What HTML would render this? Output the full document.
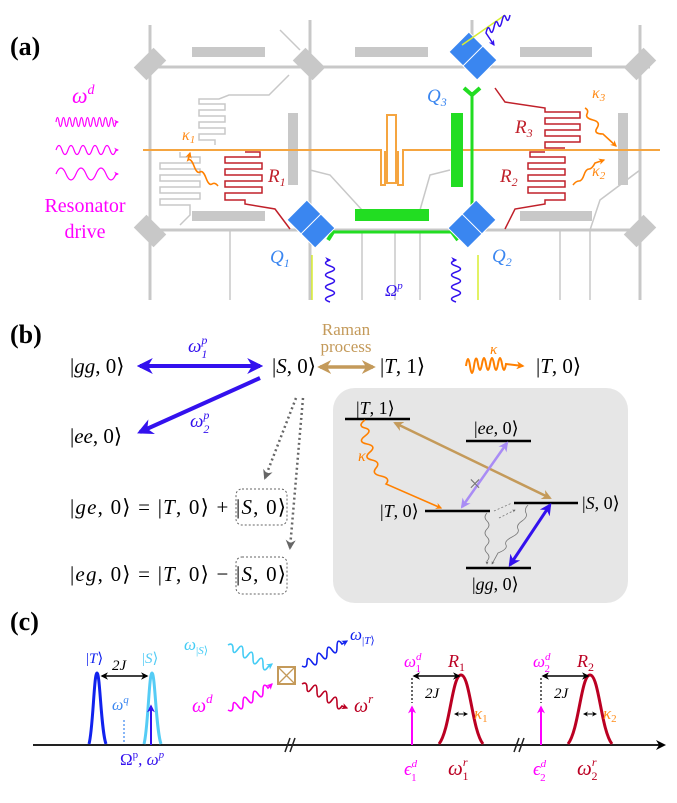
<!DOCTYPE html>
<html><head><meta charset="utf-8"><style>
body{margin:0;background:#fff}
svg text{font-family:"Liberation Serif",serif}
.m{font-size:21px}
.i{font-style:italic}
</style></head><body>
<svg width="677" height="798" viewBox="0 0 677 798" xmlns="http://www.w3.org/2000/svg">
<defs>
<marker id="ab" viewBox="0 0 10 10" refX="8" refY="5" markerWidth="4" markerHeight="4" orient="auto-start-reverse"><path d="M0 0L10 5L0 10L3 5z" fill="#3311ee"/></marker>
<marker id="ag" viewBox="0 0 10 10" refX="8" refY="5" markerWidth="4" markerHeight="4" orient="auto-start-reverse"><path d="M0 0L10 5L0 10L3 5z" fill="#c49a5a"/></marker>
<marker id="ao" viewBox="0 0 10 10" refX="8" refY="5" markerWidth="4" markerHeight="4" orient="auto-start-reverse"><path d="M0 0L10 5L0 10L3 5z" fill="#ff8000"/></marker>
<marker id="agr" viewBox="0 0 10 10" refX="8" refY="5" markerWidth="4" markerHeight="4" orient="auto-start-reverse"><path d="M0 0L10 5L0 10L3 5z" fill="#666"/></marker>
<marker id="ap" viewBox="0 0 10 10" refX="8" refY="5" markerWidth="4" markerHeight="4" orient="auto-start-reverse"><path d="M0 0L10 5L0 10L3 5z" fill="#a98cf5"/></marker>
<marker id="am" viewBox="0 0 10 10" refX="8" refY="5" markerWidth="4" markerHeight="4" orient="auto"><path d="M0 0L10 5L0 10L3 5z" fill="#ff00ff"/></marker>
<marker id="ak" viewBox="0 0 10 10" refX="8" refY="5" markerWidth="5" markerHeight="5" orient="auto-start-reverse"><path d="M0 0L10 5L0 10L3 5z" fill="#000"/></marker>
<marker id="ac" viewBox="0 0 10 10" refX="8" refY="5" markerWidth="4" markerHeight="4" orient="auto"><path d="M0 0L10 5L0 10L3 5z" fill="#44ccf5"/></marker>
<marker id="ar" viewBox="0 0 10 10" refX="8" refY="5" markerWidth="4" markerHeight="4" orient="auto"><path d="M0 0L10 5L0 10L3 5z" fill="#bb0022"/></marker>
<marker id="ab2" viewBox="0 0 10 10" refX="8" refY="5" markerWidth="4" markerHeight="4" orient="auto"><path d="M0 0L10 5L0 10L3 5z" fill="#1122ee"/></marker>
</defs>

<!-- (a) -->
<text x="10" y="55" font-size="26" font-weight="bold">(a)</text>
<g stroke="#c8c8c8" fill="none" stroke-width="3">
<line x1="150" y1="67" x2="650" y2="67"/><line x1="150" y1="230" x2="650" y2="230"/>
<line x1="150" y1="25" x2="150" y2="300"/><line x1="310" y1="20" x2="310" y2="300"/>
<line x1="472" y1="20" x2="472" y2="60"/><line x1="640" y1="25" x2="640" y2="300"/>
</g>
<g stroke="#c8c8c8" fill="none" stroke-width="1.5">
<line x1="230" y1="230" x2="230" y2="300"/><line x1="362" y1="230" x2="362" y2="300"/>
<line x1="395" y1="230" x2="395" y2="300"/><line x1="420" y1="230" x2="420" y2="300"/>
<line x1="560" y1="230" x2="560" y2="300"/><line x1="590" y1="230" x2="590" y2="300"/>
<path d="M310 170 L330 175 L362 210"/><path d="M450 170 L430 175 L420 210"/>
<path d="M280 30 L300 50"/><path d="M640 170 L600 200 L590 230"/>
<path d="M215 145 v-5 h-16 v-6 h26 v-6 h-26 v-6 h26 v-6 h-26 v-6 h26 v-6 h-26 v-5 h20 l10 -4 h40 l20 -20"/>
<path d="M180 152 v5 h20 v6 h-40 v6 h40 v6 h-40 v6 h40 v6 h-40 v6 h40 v6 h-40 v6 h30 v10 l-10 10"/>
</g>
<g fill="#c8c8c8">
<rect x="192" y="47" width="73" height="10"/><rect x="355" y="47" width="73" height="10"/><rect x="520" y="47" width="72" height="10"/>
<rect x="192" y="211" width="73" height="10"/><rect x="520" y="211" width="72" height="10"/>
<rect x="288" y="113" width="10" height="72"/><rect x="618" y="113" width="10" height="72"/>
<rect x="295" y="55" width="28" height="18" transform="rotate(45 309 64)"/>
<rect x="136" y="222" width="28" height="18" transform="rotate(45 150 231)"/>
<rect x="626" y="222" width="28" height="18" transform="rotate(-45 640 231)"/>
<rect x="626" y="55" width="28" height="18" transform="rotate(-45 640 64)"/>
<rect x="136" y="55" width="28" height="18" transform="rotate(-45 150 64)"/>
</g>
<path d="M143 150 H381 V185 H385 V151 M398 151 V185 H403 V150 H660" stroke="#f5a540" stroke-width="2" fill="none"/>
<rect x="387" y="115" width="9" height="68" stroke="#f5a540" stroke-width="2" fill="none"/>
<g stroke="#22dd22" fill="none">
<path d="M472 92 V225 M320 232 H465" stroke-width="3"/>
<path d="M464 88 L472 95 L480 88 M328 224 L333 232 L328 240 M464 222 L472 215 L480 222 M458 224 L452 232 L458 240" stroke-width="4"/>
</g>
<rect x="355" y="209" width="74" height="12" fill="#22dd22"/>
<rect x="451" y="113" width="12" height="74" fill="#22dd22"/>
<g stroke="#c0202a" fill="none" stroke-width="1.5">
<path d="M245 152 h15 v5 h-35 v6 h37 v6 h-37 v6 h37 v6 h-37 v6 h37 v6 h-37 v7 h20 v4 l30 5 l15 20"/>
<path d="M545 152 h-15 v5 h35 v6 h-37 v6 h37 v6 h-37 v6 h37 v6 h-37 v6 h37 v7 h-20 v4 l-30 5 l-10 20"/>
<path d="M565 148 h-20 v-6 h35 v-6 h-35 v-6 h35 v-6 h-35 v-6 h35 v-6 h-35 v-4 l-40 -6 l-10 -14"/>
</g>
<g fill="#3a86f0" stroke="#fff" stroke-width="1">
<rect x="290" y="207" width="28" height="20" transform="rotate(-45 304 217)"/>
<rect x="304" y="221" width="28" height="20" transform="rotate(-45 318 231)"/>
<rect x="465" y="207" width="28" height="20" transform="rotate(45 479 217)"/>
<rect x="451" y="221" width="28" height="20" transform="rotate(45 465 231)"/>
<rect x="452" y="39" width="28" height="20" transform="rotate(-45 466 49)"/>
<rect x="466" y="53" width="28" height="20" transform="rotate(-45 480 63)"/>
</g>
<g stroke="#d8ee30" stroke-width="1.5"><line x1="312" y1="255" x2="312" y2="300"/><line x1="478" y1="255" x2="478" y2="300"/><line x1="462" y1="45" x2="505" y2="15"/></g>
<g font-size="19" class="i" fill="#3a86f0">
<text x="270" y="263">Q<tspan font-size="12" dy="4">1</tspan></text>
<text x="492" y="262">Q<tspan font-size="12" dy="4">2</tspan></text>
<text x="427" y="102">Q<tspan font-size="12" dy="4">3</tspan></text></g>
<g font-size="19" class="i" fill="#c0202a">
<text x="268" y="182">R<tspan font-size="12" dy="4">1</tspan></text>
<text x="500" y="182">R<tspan font-size="12" dy="4">2</tspan></text>
<text x="515" y="133">R<tspan font-size="12" dy="4">3</tspan></text></g>
<g font-size="16" class="i" fill="#ff8c1a">
<text x="182" y="140">κ<tspan font-size="11" dy="3">1</tspan></text>
<text x="592" y="176">κ<tspan font-size="11" dy="3">2</tspan></text>
<text x="592" y="98">κ<tspan font-size="11" dy="3">3</tspan></text></g>
<g stroke="#ff8000" stroke-width="1.6" fill="none">
<path d="M218 186 q-3 -4 -6 -2 t-6 -6 t-6 -6 t-6 -6 t-6 -6 L190 153" marker-end="url(#ao)"/>
<path d="M573 185 q3 -4 6 -4 t5 -6 t5 -6 t6 -6 L604 160" marker-end="url(#ao)"/>
<path d="M585 108 q4 2 2 6 t6 6 t4 8 t6 6 L616 146" marker-end="url(#ao)"/>
</g>
<g stroke="#ff00ff" stroke-width="1.2" fill="none">
<path d="M56 122 q1.5 -9 3 0 t3 0 t3 0 t3 0 t3 0 t3 0 t3 0 t3 0 t3 0 t3 0 t3 0 t3 0 t3 0 t3 0 t3 0 t3 0 t3 0 t3 0 t3 0 t3 0 H118" marker-end="url(#am)"/>
<path d="M56 150 q3 -9 6 0 t6 0 t6 0 t6 0 t6 0 t6 0 t6 0 t6 0 t6 0 t6 0 H118" marker-end="url(#am)"/>
<path d="M56 174 q5 -12 10 0 t10 0 t10 0 t10 0 t10 0 t10 0 H118" marker-end="url(#am)"/>
</g>
<text x="72" y="103" font-size="22" class="i" fill="#ff00ff">ω<tspan font-size="14" dy="-9">d</tspan></text>
<text x="85" y="212" font-size="20" fill="#ff00ff" text-anchor="middle">Resonator</text>
<text x="85" y="238" font-size="20" fill="#ff00ff" text-anchor="middle">drive</text>
<g stroke="#3311ee" stroke-width="1.5" fill="none">
<path d="M330 302 q-9 -3 0 -6 t0 -6 t0 -6 t0 -6 t0 -6 t0 -6 t0 -6 V260" marker-end="url(#ab)"/>
<path d="M456 302 q-9 -3 0 -6 t0 -6 t0 -6 t0 -6 t0 -6 t0 -6 t0 -6 V260" marker-end="url(#ab)"/>
<path d="M510 15 q-2 9 -4 3 t-4 3 t-4 3 t-4 3 t-4 3 t-4 3 L494 45" marker-end="url(#ab)"/>
</g>
<text x="385" y="296" font-size="17" class="i" fill="#3311ee">Ω<tspan font-size="11" dy="-7">p</tspan></text>

<!-- (b) -->
<text x="10" y="343" font-size="26" font-weight="bold">(b)</text>
<g class="m">
<text x="70" y="373"><tspan>|</tspan><tspan class="i">gg</tspan>, 0⟩</text>
<text x="272" y="373">|<tspan class="i">S</tspan>, 0⟩</text>
<text x="380" y="373">|<tspan class="i">T</tspan>, 1⟩</text>
<text x="536" y="373">|<tspan class="i">T</tspan>, 0⟩</text>
<text x="70" y="443">|<tspan class="i">ee</tspan>, 0⟩</text>
<text x="70" y="514" textLength="216" lengthAdjust="spacing">|<tspan class="i">ge</tspan>, 0⟩ = |<tspan class="i">T</tspan>, 0⟩ + |<tspan class="i">S</tspan>, 0⟩</text>
<text x="70" y="581" textLength="216" lengthAdjust="spacing">|<tspan class="i">eg</tspan>, 0⟩ = |<tspan class="i">T</tspan>, 0⟩ − |<tspan class="i">S</tspan>, 0⟩</text>
</g>
<rect x="236" y="489" width="51" height="36" rx="6" fill="none" stroke="#666" stroke-dasharray="2 2"/>
<rect x="236" y="557" width="51" height="37" rx="6" fill="none" stroke="#666" stroke-dasharray="2 2"/>
<g stroke="#666" stroke-width="2.5" stroke-dasharray="2 3" fill="none">
<line x1="296" y1="398" x2="265" y2="478" marker-end="url(#agr)"/>
<line x1="303" y1="398" x2="290" y2="548" marker-end="url(#agr)"/>
</g>
<g stroke="#3311ee" stroke-width="4" fill="none">
<line x1="140" y1="366" x2="260" y2="366" marker-start="url(#ab)" marker-end="url(#ab)"/>
<line x1="260" y1="378" x2="140" y2="432" marker-end="url(#ab)"/>
</g>
<text x="188" y="352" font-size="19" class="i" fill="#3311ee">ω<tspan font-size="12" dy="-8">p</tspan><tspan font-size="12" dx="-6" dy="14">1</tspan></text>
<text x="190" y="427" font-size="19" class="i" fill="#3311ee">ω<tspan font-size="12" dy="-8">p</tspan><tspan font-size="12" dx="-6" dy="14">2</tspan></text>
<text x="346" y="335" font-size="17" fill="#c49a5a" text-anchor="middle">Raman</text>
<text x="346" y="352" font-size="17" fill="#c49a5a" text-anchor="middle">process</text>
<line x1="320" y1="367" x2="373" y2="367" stroke="#c49a5a" stroke-width="3.5" marker-start="url(#ag)" marker-end="url(#ag)"/>
<path d="M466 366 q2 -14 4 0 t4 0 t4 -2 t4 0 t4 0 t4 0 t4 0 t4 0 t4 0 t4 0 L523 366" stroke="#ff8000" stroke-width="2" fill="none" marker-end="url(#ao)"/>
<text x="490" y="354" font-size="15" class="i" fill="#ff8000">κ</text>
<rect x="333" y="388" width="295" height="215" rx="22" fill="#e6e6e6"/>
<g stroke="#000" stroke-width="2.5">
<line x1="345" y1="419" x2="410" y2="419"/><line x1="466" y1="441" x2="531" y2="441"/>
<line x1="425" y1="511" x2="490" y2="511"/><line x1="514" y1="503" x2="578" y2="503"/>
<line x1="466" y1="568" x2="531" y2="568"/></g>
<g font-size="18">
<text x="356" y="414">|<tspan class="i">T</tspan>, 1⟩</text>
<text x="474" y="434">|<tspan class="i">ee</tspan>, 0⟩</text>
<text x="380" y="517">|<tspan class="i">T</tspan>, 0⟩</text>
<text x="582" y="509">|<tspan class="i">S</tspan>, 0⟩</text>
<text x="472" y="590">|<tspan class="i">gg</tspan>, 0⟩</text></g>
<line x1="395" y1="423" x2="550" y2="498" stroke="#c49a5a" stroke-width="2.5" marker-start="url(#ag)" marker-end="url(#ag)"/>
<line x1="507" y1="443" x2="462" y2="507" stroke="#a98cf5" stroke-width="2.5" marker-start="url(#ap)" marker-end="url(#ap)"/>
<text x="475" y="491" font-size="22" fill="#777" text-anchor="middle">×</text>
<line x1="550" y1="505" x2="510" y2="565" stroke="#3311ee" stroke-width="3" marker-start="url(#ab)" marker-end="url(#ab)"/>
<path d="M365 420 q-8 6 0 8 t0 8 t2 8 t3 8 t2 8 t4 8 t5 8 t5 8 L441 508" stroke="#ff8000" stroke-width="1.6" fill="none" marker-end="url(#ao)"/>
<text x="358" y="461" font-size="16" class="i" fill="#ff8000">κ</text>
<g stroke="#777" stroke-width="0.8" fill="none">
<path d="M487 513 q-4 4 0 8 t0 8 t0 8 t0 8 t0 8 t0 8 V564" marker-end="url(#agr)"/>
<path d="M528 505 q-4 4 -2 8 t-4 8 t-4 8 t-6 8 t-6 8 t-8 8 L492 564" marker-end="url(#agr)"/>
<path d="M494 511 L512 503 M499 518 L515 510" stroke-dasharray="2 2" marker-end="url(#agr)"/>
</g>

<!-- (c) -->
<text x="10" y="630" font-size="26" font-weight="bold">(c)</text>
<line x1="33" y1="745" x2="664" y2="745" stroke="#222" stroke-width="2" marker-end="url(#ak)"/>
<g stroke="#222" stroke-width="1.5"><line x1="285" y1="752" x2="290" y2="738"/><line x1="290" y1="752" x2="295" y2="738"/>
<line x1="514" y1="752" x2="519" y2="738"/><line x1="519" y1="752" x2="524" y2="738"/></g>
<path d="M89 744 C93 730 94 673 97 673 C100 673 101 730 106 744" stroke="#1122ee" stroke-width="3" fill="none"/>
<path d="M144 744 C148 730 149 673 152 673 C155 673 156 730 161 744" stroke="#55ccf5" stroke-width="3" fill="none"/>
<line x1="151" y1="745" x2="151" y2="706" stroke="#3311ee" stroke-width="2" marker-end="url(#ab)"/>
<line x1="124" y1="742" x2="124" y2="718" stroke="#3a86f0" stroke-width="1.2" stroke-dasharray="2 2"/>
<line x1="102" y1="676" x2="147" y2="676" stroke="#000" stroke-width="1.5" marker-start="url(#ak)" marker-end="url(#ak)"/>
<text x="112" y="670" font-size="15" class="i">2J</text>
<text x="86" y="663" font-size="15" fill="#1122ee">|<tspan class="i">T</tspan>⟩</text>
<text x="142" y="663" font-size="15" fill="#55ccf5">|<tspan class="i">S</tspan>⟩</text>
<text x="112" y="710" font-size="16" class="i" fill="#3a86f0">ω<tspan font-size="11" dy="-7">q</tspan></text>
<text x="120" y="765" font-size="17" fill="#3311ee">Ω<tspan font-size="11" dy="-7">p</tspan><tspan dy="7">, </tspan><tspan class="i">ω</tspan><tspan font-size="11" dy="-7" class="i">p</tspan></text>
<rect x="278" y="667" width="17" height="17" fill="none" stroke="#c49a5a" stroke-width="2"/>
<path d="M278 667 L295 684 M295 667 L278 684" stroke="#c49a5a" stroke-width="1.3"/>
<g stroke-width="1.6" fill="none">
<path d="M228 645 q5 -3 5 4 t5 0 t5 3 t5 3 t5 3 t5 3 t5 3 t5 3 L272 664" stroke="#44ccf5" marker-end="url(#ac)"/>
<path d="M228 710 q5 3 5 -4 t5 0 t5 -3 t5 -3 t5 -3 t5 -3 t5 -3 t5 -3 L272 684" stroke="#ff00ff" marker-end="url(#am)"/>
<path d="M302 666 q5 3 5 -4 t5 0 t5 -3 t5 -3 t5 -3 t5 -3 t5 -3 t5 -3 L347 641" stroke="#1122ee" marker-end="url(#ab2)"/>
<path d="M302 684 q5 -3 5 4 t5 0 t5 3 t5 3 t5 3 t5 3 t5 3 t5 3 L347 708" stroke="#bb0022" marker-end="url(#ar)"/>
</g>
<text x="184" y="650" font-size="17" class="i" fill="#44ccf5">ω<tspan font-size="11" dy="4" font-style="normal">|</tspan><tspan font-size="11">S</tspan><tspan font-size="11" font-style="normal">⟩</tspan></text>
<text x="350" y="640" font-size="17" class="i" fill="#1122ee">ω<tspan font-size="11" dy="4" font-style="normal">|</tspan><tspan font-size="11">T</tspan><tspan font-size="11" font-style="normal">⟩</tspan></text>
<text x="192" y="712" font-size="20" class="i" fill="#ff00ff">ω<tspan font-size="13" dy="-9">d</tspan></text>
<text x="354" y="712" font-size="20" class="i" fill="#bb0022">ω<tspan font-size="13" dy="-9">r</tspan></text>
<g stroke="#bb0022" stroke-width="3" fill="none">
<path d="M439 744 C450 730 452 675 461 675 C470 675 472 730 483 744"/>
<path d="M568 744 C579 730 581 675 590 675 C599 675 601 730 612 744"/></g>
<g stroke="#ff00ff" stroke-width="2"><line x1="412" y1="745" x2="412" y2="707" marker-end="url(#am)"/><line x1="541" y1="745" x2="541" y2="707" marker-end="url(#am)"/></g>
<g stroke="#000" stroke-width="1.2" stroke-dasharray="2 2"><line x1="412" y1="678" x2="412" y2="703"/><line x1="541" y1="678" x2="541" y2="703"/></g>
<g stroke="#000" stroke-width="1.5"><line x1="414" y1="676" x2="459" y2="676" marker-start="url(#ak)" marker-end="url(#ak)"/><line x1="543" y1="676" x2="588" y2="676" marker-start="url(#ak)" marker-end="url(#ak)"/>
<line x1="455" y1="714" x2="467" y2="714" stroke-width="1" marker-start="url(#ak)" marker-end="url(#ak)"/><line x1="584" y1="714" x2="596" y2="714" stroke-width="1" marker-start="url(#ak)" marker-end="url(#ak)"/></g>
<text x="425" y="698" font-size="15" class="i">2J</text><text x="554" y="698" font-size="15" class="i">2J</text>
<text x="448" y="667" font-size="18" class="i" fill="#bb0022">R<tspan font-size="12" dy="4" font-style="normal">1</tspan></text>
<text x="577" y="667" font-size="18" class="i" fill="#bb0022">R<tspan font-size="12" dy="4" font-style="normal">2</tspan></text>
<text x="474" y="719" font-size="17" class="i" fill="#ff8c1a">κ<tspan font-size="11" dy="3" font-style="normal">1</tspan></text>
<text x="603" y="719" font-size="17" class="i" fill="#ff8c1a">κ<tspan font-size="11" dy="3" font-style="normal">2</tspan></text>
<text x="404" y="667" font-size="17" class="i" fill="#ff00ff">ω<tspan font-size="11" dy="-7">d</tspan><tspan font-size="11" dx="-6" dy="12" font-style="normal">1</tspan></text>
<text x="533" y="667" font-size="17" class="i" fill="#ff00ff">ω<tspan font-size="11" dy="-7">d</tspan><tspan font-size="11" dx="-6" dy="12" font-style="normal">2</tspan></text>
<text x="404" y="775" font-size="19" class="i" fill="#ff00ff">ϵ<tspan font-size="11" dy="-8">d</tspan><tspan font-size="11" dx="-6" dy="14" font-style="normal">1</tspan></text>
<text x="533" y="775" font-size="19" class="i" fill="#ff00ff">ϵ<tspan font-size="11" dy="-8">d</tspan><tspan font-size="11" dx="-6" dy="14" font-style="normal">2</tspan></text>
<text x="448" y="775" font-size="21" class="i" fill="#bb0022">ω<tspan font-size="12" dy="-9">r</tspan><tspan font-size="12" dx="-5" dy="14" font-style="normal">1</tspan></text>
<text x="577" y="775" font-size="21" class="i" fill="#bb0022">ω<tspan font-size="12" dy="-9">r</tspan><tspan font-size="12" dx="-5" dy="14" font-style="normal">2</tspan></text>
</svg>
</body></html>
